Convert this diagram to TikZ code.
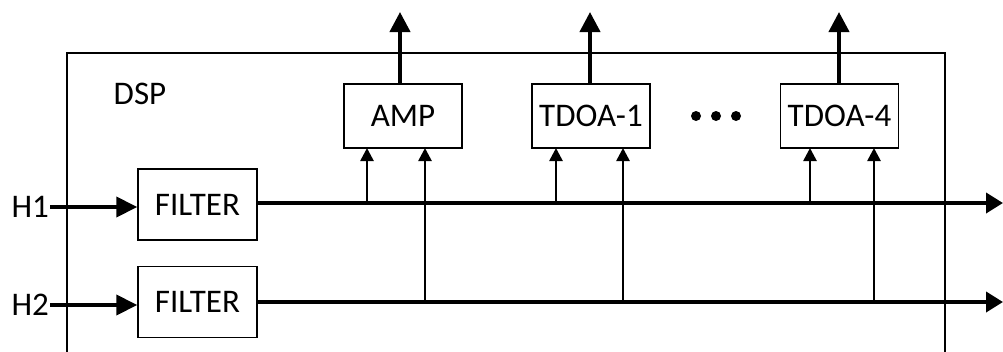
\documentclass[tikz,border=0pt]{standalone}
\usepackage{fontspec}
\setmainfont{Carlito}
\usetikzlibrary{arrows.meta}
\begin{document}
\begin{tikzpicture}[x=1pt,y=-1pt,
  every node/.style={font=\fontsize{33}{38}\selectfont},
  blk/.style={draw,line width=1.4pt,inner sep=0pt},
  filt/.style={blk,minimum width=119pt,minimum height=71pt},
  proc/.style={blk,minimum width=118pt,minimum height=64pt},
  sig/.style={line width=3.8pt,-{Triangle[width=20pt,length=17pt]}},
  inp/.style={line width=3.8pt,-{Triangle[width=20pt,length=21pt]}},
  tap/.style={line width=2.6pt,-{Triangle[width=13pt,length=13pt]}},
  outp/.style={line width=4pt,-{Triangle[width=20pt,length=20pt]}},
  bus/.style={line width=3.8pt}]
\useasboundingbox (0,0) rectangle (1003,351);
% DSP enclosure (open at bottom)
\draw[line width=1.4pt] (67,365) -- (67,53) -- (945,53) -- (945,365);
\node (dsp) at (140,94) {DSP};
% filters
\node[filt] (f1) at (197.5,204.5) {FILTER};
\node[filt] (f2) at (197.5,302) {FILTER};
\node[anchor=east,inner sep=1pt] (h1) at (50,207) {H1};
\node[anchor=east,inner sep=1pt] (h2) at (50,305) {H2};
\draw[inp] (h1.east) -- (f1.west |- h1.east);
\draw[inp] (h2.east) -- (f2.west |- h2.east);
% processing blocks
\node[proc] (amp) at (403,116) {AMP};
\node[proc] (t1) at (591,116) {TDOA-1};
\node[proc] (t4) at (839.5,116) {TDOA-4};
\foreach \x in {696,716,736} \fill (\x,116) circle (5pt);
% buses
\coordinate (e1) at (1003,203);
\coordinate (e2) at (1003,302);
\draw[sig] (f1.east |- e1) -- (e1);
\draw[sig] (f2.east |- e2) -- (e2);
% taps
\draw[tap] (367,203) -- (367,148);
\draw[tap] (425,302) -- (425,148);
\draw[tap] (556,203) -- (556,148);
\draw[tap] (623,302) -- (623,148);
\draw[tap] (810,203) -- (810,148);
\draw[tap] (874,302) -- (874,148);
% outputs
\coordinate (o1) at (400,12);
\coordinate (o2) at (590,12);
\coordinate (o3) at (839,12);
\draw[outp] (amp.north -| o1) -- (o1);
\draw[outp] (t1.north -| o2) -- (o2);
\draw[outp] (t4.north -| o3) -- (o3);
\end{tikzpicture}
\end{document}
